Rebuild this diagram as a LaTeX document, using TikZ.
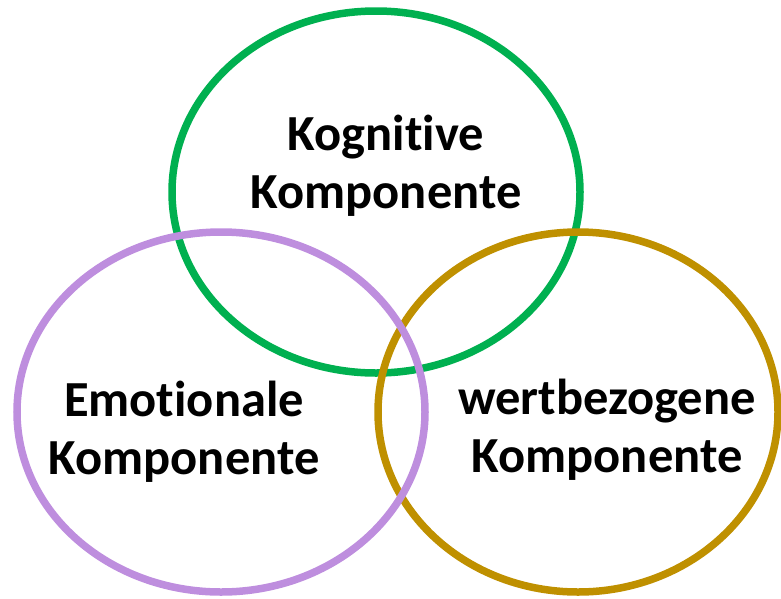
\documentclass[tikz,border=0pt]{standalone}
\usepackage{fontspec}
\setmainfont[Ligatures=NoCommon]{Carlito}
\definecolor{cgreen}{RGB}{0,176,80}
\definecolor{cpurple}{RGB}{190,142,222}
\definecolor{cgold}{RGB}{191,144,0}
\begin{document}
\begin{tikzpicture}[x=1pt,y=-1pt]
\tikzset{
  ring/.style={line width=7.5pt},
  lbl/.style={align=center,inner sep=0pt,font=\fontsize{50.5}{58}\selectfont\bfseries}
}
\useasboundingbox (0,0) rectangle (781,598);
\draw[ring,cgreen] (376,192) ellipse [x radius=204, y radius=181];
\draw[ring,cgold] (578,412) ellipse [x radius=200, y radius=180];
\draw[ring,cpurple] (221,412) ellipse [x radius=204, y radius=180];
\node[lbl] (kog) at (386,166) {Kognitive\\Komponente};
\node[lbl] (emo) at (184,432) {Emotionale\\Komponente};
\node[lbl] (wert) at (607,430) {wertbezogene\\Komponente};
\end{tikzpicture}
\end{document}
